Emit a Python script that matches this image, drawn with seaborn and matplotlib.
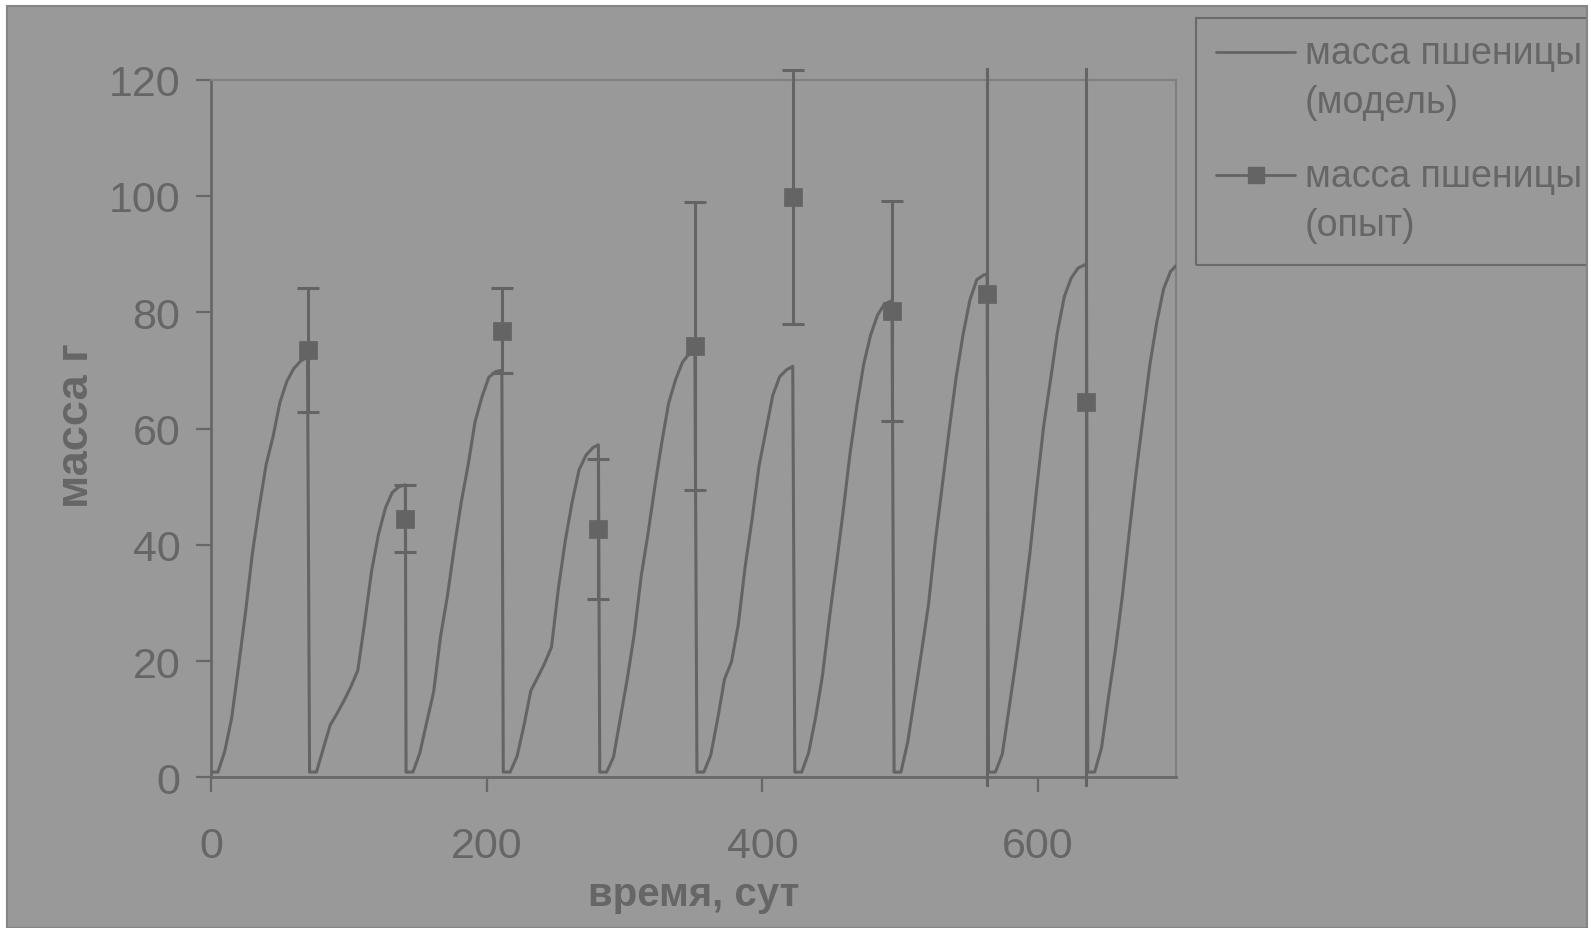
import matplotlib
matplotlib.use("Agg")
import matplotlib.pyplot as plt
from matplotlib.patches import Rectangle
from matplotlib.lines import Line2D
from matplotlib.transforms import Bbox, TransformedBbox
import seaborn as sns
import pandas as pd

# ---- data -------------------------------------------------------------
# planting days of each growing cycle and harvest days (= measurement days)
sow_days = [0, 71.5, 141.5, 212, 282, 352.5, 423.5, 495.5, 564, 636]
exp_days = [70, 141, 211, 281, 351, 422, 494, 563, 635]
model_end = 700

# model mass at 0, 5, 10, ... days after planting; last entry = value at harvest
growth_offsets = [0, 5, 10, 15, 20, 25, 30, 35, 40, 45, 50, 55, 60, 65]
cycle_1 = [0.9, 0.9, 4.5, 10.2, 19.1, 28.3, 38.5, 46.5, 53.8, 58.6, 64.5, 68.1, 70.3, 71.6, 72.3]
cycle_2 = [0.9, 0.9, 5.0, 9.0, 11.0, 13.2, 15.6, 18.4, 26.7, 35.5, 41.8, 46.3, 49.0, 50.0, 50.3]
cycle_3 = [0.9, 0.9, 4.2, 9.5, 14.7, 24.2, 31.2, 39.6, 47.3, 53.7, 61.1, 65.4, 68.8, 69.8, 70.0]
cycle_4 = [0.9, 0.9, 3.6, 8.9, 14.9, 17.2, 19.6, 22.4, 32.5, 40.7, 47.4, 52.9, 55.4, 56.7, 57.2]
cycle_5 = [0.9, 0.9, 3.5, 10.2, 17.0, 24.6, 34.5, 41.9, 50.1, 57.6, 64.4, 68.4, 71.4, 72.9, 73.6]
cycle_6 = [0.9, 0.9, 3.8, 10.0, 16.9, 19.8, 26.3, 36.3, 44.4, 53.5, 59.6, 65.7, 68.9, 70.1, 70.7]
cycle_7 = [0.9, 0.9, 4.2, 10.2, 17.4, 27.2, 36.3, 45.6, 55.6, 63.9, 71.1, 76.1, 79.5, 81.4, 82.0]
cycle_8 = [0.9, 0.9, 6.2, 13.9, 21.7, 29.8, 40.8, 50.3, 59.8, 68.8, 76.1, 82.1, 85.6, 86.4, 86.6]
cycle_9 = [0.9, 0.9, 4.0, 12.0, 20.2, 28.9, 38.5, 49.8, 60.4, 68.4, 76.6, 82.7, 85.9, 87.6, 88.3]
cycle_10 = [0.9, 0.9, 5.1, 13.7, 21.8, 31.0, 41.9, 52.3, 61.6, 70.9, 78.2, 84.0, 87.0, 88.0]
cycles = [cycle_1, cycle_2, cycle_3, cycle_4, cycle_5,
          cycle_6, cycle_7, cycle_8, cycle_9, cycle_10]

# measured mass and its spread
exp_mass = [73.5, 44.5, 76.8, 42.7, 74.2, 99.8, 80.2, 83.2, 64.6]
exp_err = [10.7, 5.7, 7.3, 12.0, 24.8, 21.9, 18.9, 90.0, 75.0]

x_ticks = [0, 200, 400, 600]
y_ticks = [0, 20, 40, 60, 80, 100, 120]

legend_labels = ["масса пшеницы\n(модель)", "масса пшеницы\n(опыт)"]
x_title = "время, сут"
y_title = "масса г"

# ---- build the model curve -------------------------------------------
harvest_days = exp_days + [model_end]
model_day, model_mass = [], []
for sow, harvest, vals in zip(sow_days, harvest_days, cycles):
    for off, v in zip(growth_offsets, vals[:-1]):
        if sow + off < harvest:
            model_day.append(sow + off)
            model_mass.append(v)
    model_day.append(harvest)
    model_mass.append(vals[-1])
model_df = pd.DataFrame({"day": model_day, "mass": model_mass})
exp_df = pd.DataFrame({"day": exp_days, "mass": exp_mass, "err": exp_err})

# ---- style ------------------------------------------------------------
sns.set_style("ticks")
plt.rcParams["font.family"] = ["Liberation Sans", "DejaVu Sans"]

W, H = 1591, 929
BG = "#999999"
INK = "#646464"
TXT = "#666666"


def fx(px):
    return px / W


def fy(py):
    return 1 - py / H


fig = plt.figure(figsize=(W / 100, H / 100), dpi=100, facecolor="white")
fig.add_artist(Rectangle((fx(7.5), fy(928.5)), fx(1587.5) - fx(7.5), fy(6.5) - fy(928.5),
                         transform=fig.transFigure, facecolor=BG, edgecolor="none", zorder=-10))

ax = fig.add_axes([fx(211), fy(778.3), (1176 - 211) / W, (778.3 - 80.7) / H])
ax.set_facecolor(BG)

sns.lineplot(data=model_df, x="day", y="mass", sort=False, estimator=None,
             color=INK, linewidth=2.2, ax=ax, zorder=3)

eb = ax.errorbar(exp_df["day"], exp_df["mass"], yerr=exp_df["err"], fmt="none",
                 ecolor=INK, elinewidth=2.2, capsize=7.8, capthick=2.2, zorder=4)
clip = TransformedBbox(Bbox([[-5, -1.6], [705, 122.0]]), ax.transData)
for art in list(eb.lines[1]) + list(eb.lines[2]):
    art.set_clip_path(None)
    art.set_clip_box(clip)

sns.scatterplot(data=exp_df, x="day", y="mass", marker="s", s=150, color=INK,
                edgecolor=INK, linewidth=0.5, ax=ax, zorder=5, clip_on=False)

ax.set_xlim(0, model_end)
ax.set_ylim(0, 120)
ax.set_xticks(x_ticks)
ax.set_yticks(y_ticks)
ax.set_xlabel("")
ax.set_ylabel("")

for side in ("left", "bottom"):
    ax.spines[side].set_color("#686868")
    ax.spines[side].set_linewidth(2)
for side in ("top", "right"):
    ax.spines[side].set_visible(True)
    ax.spines[side].set_color("#808080")
    ax.spines[side].set_linewidth(1.6)

ax.tick_params(axis="both", direction="out", length=11, width=1.6, color="#686868",
               labelcolor=TXT, labelsize=31)
ax.tick_params(axis="y", pad=11)
ax.tick_params(axis="x", pad=24)

# axis titles
fig.text(fx(693.5), fy(906.5), x_title, ha="center", va="baseline",
         fontsize=29, fontweight="bold", color=TXT)
fig.text(fx(76), fy(426), y_title, ha="center", va="center", rotation=90,
         fontsize=32.5, fontweight="bold", color=TXT)

# legend box
fig.add_artist(Rectangle((fx(1196), fy(265.7)), fx(1650) - fx(1196), fy(19) - fy(265.7),
                         transform=fig.transFigure, facecolor="none",
                         edgecolor="#6a6a6a", linewidth=1.5, zorder=6))
fig.add_artist(Line2D([fx(1216), fx(1295)], [fy(53.3), fy(53.3)], transform=fig.transFigure,
                      color=INK, linewidth=2, zorder=7))
fig.add_artist(Line2D([fx(1216), fx(1295)], [fy(176), fy(176)], transform=fig.transFigure,
                      color=INK, linewidth=2, zorder=7))
fig.add_artist(Line2D([fx(1255.5)], [fy(176)], transform=fig.transFigure, color=INK,
                      marker="s", markersize=11, linestyle="none", zorder=8))
for label, top in zip(legend_labels, [64, 187]):
    first, second = label.split("\n")
    fig.text(fx(1305), fy(top), first, ha="left", va="baseline", fontsize=27, color=TXT)
    fig.text(fx(1305), fy(top + 49), second, ha="left", va="baseline", fontsize=27, color=TXT)

# chart area border, cut at the right edge
fig.add_artist(Rectangle((fx(1588), 0), 1 - fx(1588), 1, transform=fig.transFigure,
                         facecolor="white", edgecolor="none", zorder=29))
fig.add_artist(Rectangle((fx(7.5), fy(928.5)), fx(1587.5) - fx(7.5), fy(6.5) - fy(928.5),
                         transform=fig.transFigure, facecolor="none",
                         edgecolor="#858585", linewidth=1.5, zorder=30))

fig.savefig("out.png", dpi=100, facecolor="white")
